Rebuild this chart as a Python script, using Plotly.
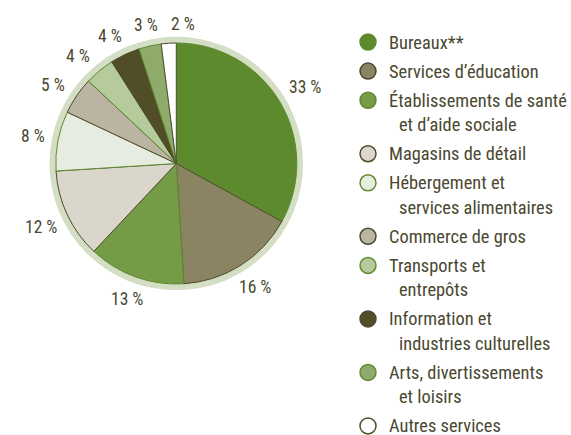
import math
import plotly.graph_objects as go

categories = [
    "Bureaux**",
    "Services d’éducation",
    "Établissements de santé<br>et d’aide sociale",
    "Magasins de détail",
    "Hébergement et<br>services alimentaires",
    "Commerce de gros",
    "Transports et<br>entrepôts",
    "Information et<br>industries culturelles",
    "Arts, divertissements<br>et loisirs",
    "Autres services",
]
values = [33, 16, 13, 12, 8, 5, 4, 4, 3, 2]
labels_pct = ["33 %", "16 %", "13 %", "12 %", "8 %", "5 %", "4 %", "4 %", "3 %", "2 %"]
fill_colors = ["#5e8a2e", "#8a8462", "#759b46", "#dad6cb", "#e6ecdf",
               "#bbb4a3", "#b5cb9b", "#514d26", "#8fab6b", "#ffffff"]
GREEN = "#5e8a2e"
DARK = "#4d4a2c"
line_colors = [GREEN, DARK, GREEN, DARK, GREEN, DARK, GREEN, DARK, GREEN, DARK]

W, H = 571, 435
cx, cy, r = 176.3, 163.5, 120.5
ring_r = 126.8
label_gap_r = 133.0
MIN_LABEL_SEP = 15.0  # degrees between neighbouring percentage labels
TEXT = "#4a4830"
FONT = "Liberation Sans Narrow, Roboto Condensed, Arial Narrow, Liberation Sans, sans-serif"

# legend layout (pixels)
LEG_MARK_X, LEG_TEXT_X, LEG_INDENT_X = 368, 387, 397
LEG_TOP, ITEM_STEP, LINE_STEP = 42, 29.1, 24.4
LEG_FONT = 18.4

def dom(rad):
    return dict(x=[(cx - rad) / W, (cx + rad) / W],
                y=[(H - cy - rad) / H, (H - cy + rad) / H])

fig = go.Figure()
# outer ring
fig.add_trace(go.Pie(values=[1], marker=dict(colors=["#d3dec5"], line=dict(width=0)),
                     domain=dom(ring_r), textinfo="none", hoverinfo="skip",
                     showlegend=False, sort=False))
fig.add_trace(go.Pie(
    values=values, labels=[c.replace("<br>", " ") for c in categories],
    textinfo="none",
    marker=dict(colors=fill_colors, line=dict(color=line_colors, width=1)),
    sort=False, direction="clockwise", rotation=0,
    domain=dom(r), showlegend=False, hoverinfo="label+percent",
))

# percentage labels: start at each slice's mid-angle, then spread crowded neighbours
total = sum(values)
angles = []
cum = 0
for v in values:
    angles.append((cum + v / 2) / total * 360.0)
    cum += v
for _ in range(200):
    for i in range(len(angles) - 1):
        gap = angles[i + 1] - angles[i]
        if gap < MIN_LABEL_SEP:
            shift = (MIN_LABEL_SEP - gap) / 2
            angles[i] -= shift
            angles[i + 1] += shift

for a, t in zip(angles, labels_pct):
    mid = math.radians(a)
    s, c = math.sin(mid), math.cos(mid)
    half_w, half_h = 7.6 * len(t) / 2, 6.5
    d = label_gap_r + abs(s) * half_w + abs(c) * half_h
    px = cx + d * s
    py = cy - d * c
    fig.add_annotation(x=px / W, y=1 - py / H, xref="paper", yref="paper",
                       text=t, showarrow=False, xanchor="center", yanchor="middle",
                       font=dict(family=FONT, size=17.5, color=TEXT))

# legend: circle keys + wrapped labels
key_y = []
y = LEG_TOP
for name in categories:
    lines = name.split("<br>")
    key_y.append(y)
    for j, ln in enumerate(lines):
        fig.add_annotation(x=LEG_TEXT_X if j == 0 else LEG_INDENT_X, y=y + j * LINE_STEP,
                           xref="x", yref="y", text=ln, showarrow=False,
                           xanchor="left", yanchor="middle",
                           font=dict(family=FONT, size=LEG_FONT, color=TEXT))
    y += (len(lines) - 1) * LINE_STEP + ITEM_STEP

fig.add_trace(go.Scatter(
    x=[LEG_MARK_X] * len(categories), y=key_y, mode="markers",
    marker=dict(symbol="circle", size=16, color=fill_colors,
                line=dict(color=line_colors, width=1.5)),
    text=[c.replace("<br>", " ") for c in categories], hoverinfo="text",
    showlegend=False, cliponaxis=False,
))

fig.update_layout(
    width=W, height=H, margin=dict(l=0, r=0, t=0, b=0),
    paper_bgcolor="white", plot_bgcolor="rgba(0,0,0,0)",
    xaxis=dict(visible=False, range=[0, W], domain=[0, 1], fixedrange=True),
    yaxis=dict(visible=False, range=[H, 0], domain=[0, 1], fixedrange=True),
    showlegend=False,
    font=dict(family=FONT, color=TEXT),
)
fig.write_html("out.html", config={"displayModeBar": False},
               post_script="document.body.style.margin='0';")
